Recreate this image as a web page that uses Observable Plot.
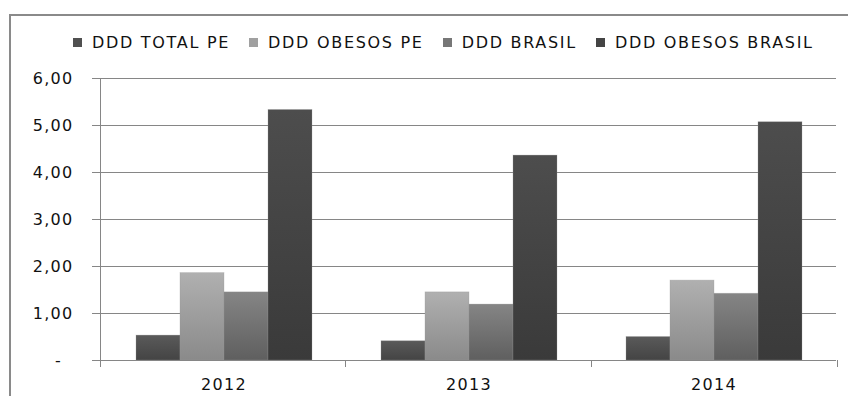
<!DOCTYPE html>
<html>
<head>
<meta charset="utf-8">
<script src="https://cdn.jsdelivr.net/npm/d3@7"></script>
<script src="https://cdn.jsdelivr.net/npm/@observablehq/plot@0.6"></script>
<style>
  html, body { margin: 0; padding: 0; background: #fff; }
  #wrap { position: relative; width: 848px; height: 396px; overflow: hidden; background: #fff; }
  #frame { position: absolute; left: 9px; top: 14px; width: 900px; height: 450px;
           border-left: 2px solid #8a8a8a; border-top: 2px solid #8a8a8a; box-sizing: border-box; }
  #legend { position: absolute; left: 73px; top: 33px; height: 18px; display: flex; align-items: center;
            font-family: "DejaVu Sans", sans-serif; font-size: 16px; letter-spacing: 1.7px; color: #111; white-space: nowrap; }
  .item { display: flex; align-items: center; margin-right: 19px; }
  .sw { width: 9px; height: 9px; margin-right: 10px; }
  #chart { position: absolute; left: 0; top: 0; }
</style>
</head>
<body>
<svg width="0" height="0" style="position:absolute">
  <defs>
    <linearGradient id="g0" x1="0" y1="0" x2="0" y2="1"><stop offset="0" stop-color="#5a5a5a"/><stop offset="1" stop-color="#444"/></linearGradient>
    <linearGradient id="g1" x1="0" y1="0" x2="0" y2="1"><stop offset="0" stop-color="#b0b0b0"/><stop offset="1" stop-color="#8a8a8a"/></linearGradient>
    <linearGradient id="g2" x1="0" y1="0" x2="0" y2="1"><stop offset="0" stop-color="#858585"/><stop offset="1" stop-color="#5f5f5f"/></linearGradient>
    <linearGradient id="g3" x1="0" y1="0" x2="0" y2="1"><stop offset="0" stop-color="#4d4d4d"/><stop offset="1" stop-color="#3a3a3a"/></linearGradient>
  </defs>
</svg>
<div id="wrap">
  <div id="frame"></div>
  <div id="chart"></div>
  <div id="legend"></div>
</div>
<script>
// ---- data ----
const years = ["2012", "2013", "2014"];
const series = ["DDD TOTAL PE", "DDD OBESOS PE", "DDD BRASIL", "DDD OBESOS BRASIL"];
const totalPE = [0.53, 0.41, 0.50];
const obesosPE = [1.86, 1.45, 1.70];
const brasil = [1.45, 1.19, 1.42];
const obesosBrasil = [5.33, 4.36, 5.07];
const yTicks = [0, 1, 2, 3, 4, 5, 6];

const fills = ["url(#g0)", "url(#g1)", "url(#g2)", "url(#g3)"];
const legendColors = ["#505050", "#a0a0a0", "#777777", "#444444"];

const valueArrays = [totalPE, obesosPE, brasil, obesosBrasil];
const table = [];
years.forEach((yr, i) => {
  series.forEach((s, j) => table.push({year: yr, series: s, value: valueArrays[j][i]}));
});

const fmt = d => d === 0 ? "-\u2007" : d.toFixed(2).replace(".", ",");

const chart = Plot.plot({
  width: 848,
  height: 396,
  marginLeft: 100,
  marginRight: 11,
  marginTop: 78,
  marginBottom: 36,
  style: {fontFamily: "DejaVu Sans, sans-serif", fontSize: "16px", letterSpacing: "1.3px", color: "#111", background: "transparent"},
  facet: {data: table, x: "year"},
  fx: {domain: years, padding: 0, label: null, axis: "bottom", tickSize: 0, tickPadding: 18},
  x: {domain: series, paddingInner: 0, paddingOuter: 0.745, axis: null},
  y: {domain: [0, 6], ticks: yTicks, tickFormat: fmt, tickSize: 0, tickPadding: 28, label: null},
  color: {domain: series, range: fills},
  marks: [
    Plot.ruleY(yTicks, {stroke: "#868686", strokeWidth: 1}),
    Plot.barY(table, {x: "series", y: "value", fill: "series", stroke: "#9a9a9a", strokeOpacity: 0.35, strokeWidth: 0.8}),
    Plot.ruleY([0], {stroke: "#868686", strokeWidth: 1})
  ]
});
document.getElementById("chart").appendChild(chart);

// extra axis lines & category tick marks from the chart's own scales
const sy = chart.scale("y"), sfx = chart.scale("fx");
const y = d3.scaleLinear(sy.domain, sy.range);
const fx = d3.scaleBand(sfx.domain, sfx.range).padding(0);
const svg = d3.select(chart);
const g = svg.append("g").attr("stroke", "#868686").attr("stroke-width", 1).attr("shape-rendering", "crispEdges");
const x0 = fx(years[0]);
const y0 = y(0);
g.append("line").attr("x1", x0).attr("x2", x0).attr("y1", y(6)).attr("y2", y0 + 7);
yTicks.forEach(t => g.append("line").attr("x1", x0 - 8).attr("x2", x0).attr("y1", y(t)).attr("y2", y(t)));
years.forEach(yr => {
  const xb = fx(yr) + fx.bandwidth();
  g.append("line").attr("x1", xb).attr("x2", xb).attr("y1", y0).attr("y2", y0 + 7);
});

// legend
const lg = document.getElementById("legend");
series.forEach((s, i) => {
  const it = document.createElement("div");
  it.className = "item";
  const sw = document.createElement("div");
  sw.className = "sw";
  sw.style.background = legendColors[i];
  const tx = document.createElement("span");
  tx.textContent = s;
  it.appendChild(sw); it.appendChild(tx);
  lg.appendChild(it);
});
</script>
</body>
</html>
